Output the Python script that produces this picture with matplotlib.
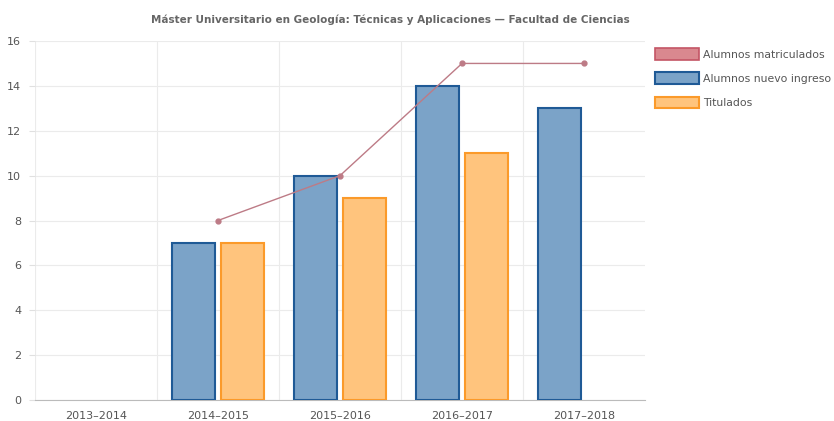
import numpy as np
import matplotlib
matplotlib.use("Agg")
from matplotlib import pyplot as plt
from matplotlib.patches import Patch

years = ["2013–2014", "2014–2015", "2015–2016", "2016–2017", "2017–2018"]
matriculados = [np.nan, 8, 10, 15, 15]
nuevo_ingreso = [np.nan, 7, 10, 14, 13]
titulados = [np.nan, 7, 9, 11, np.nan]

fig = plt.figure(figsize=(8.34, 4.21), dpi=100)
ax = fig.add_axes([35 / 834, 21 / 421, 610 / 834, 359 / 421])

x = np.arange(len(years))
w = 0.35
ax.bar(x - 0.2, nuevo_ingreso, w, color="#7ba3c8", edgecolor="#1f5a96", linewidth=1.5, zorder=3)
ax.bar(x + 0.2, titulados, w, color="#ffc47d", edgecolor="#fb9a2a", linewidth=1.5, zorder=3)
ax.plot(x, matriculados, color="#bd7b86", linewidth=1.0, marker="o", markersize=3.5, zorder=4)

ax.set_xlim(-0.5, len(years) - 0.5)
ax.set_ylim(0, 16)
ax.set_yticks(range(0, 17, 2))
ax.set_xticks(x)
ax.set_xticklabels(years)
ax.set_xticks(np.arange(-0.5, len(years) - 0.5, 1), minor=True)
ax.grid(axis="y", color="#ebebeb", linewidth=0.8, zorder=0)
ax.grid(axis="x", which="minor", color="#ebebeb", linewidth=0.8, zorder=0)
ax.tick_params(axis="x", which="both", length=0, colors="#555555", labelsize=8, pad=8)
ax.tick_params(axis="y", length=4, color="#e0e0e0", colors="#555555", labelsize=8, pad=6)
for side in ["top", "right", "left"]:
    ax.spines[side].set_visible(False)
ax.spines["bottom"].set_color("#bbbbbb")

fig.text(390 / 834, 1 - 20 / 421,
         "Máster Universitario en Geología: Técnicas y Aplicaciones — Facultad de Ciencias",
         ha="center", va="center", fontsize=7.5, fontweight="bold", color="#666666")

handles = [
    Patch(facecolor="#d9888f", edgecolor="#c45565", linewidth=1.2),
    Patch(facecolor="#7ba3c8", edgecolor="#1f5a96", linewidth=1.5),
    Patch(facecolor="#ffc47d", edgecolor="#fb9a2a", linewidth=1.5),
]
fig.legend(handles, ["Alumnos matriculados", "Alumnos nuevo ingreso", "Titulados"],
           loc="upper left", bbox_to_anchor=(655 / 834, 1 - 48 / 421), frameon=False,
           fontsize=7.8, labelcolor="#555555", handlelength=4.1, handleheight=1.3,
           labelspacing=1.15, handletextpad=0.35, borderaxespad=0, borderpad=0)

fig.savefig("out.png", dpi=100)
